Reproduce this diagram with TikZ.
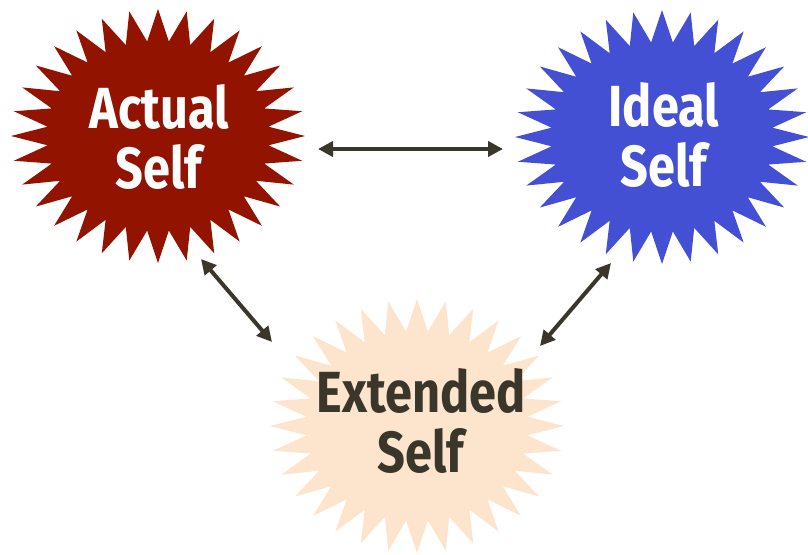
\documentclass[tikz,border=0pt]{standalone}
\usepackage{fontspec}
\usetikzlibrary{arrows.meta}
\newfontfamily\burstfont[FakeStretch=0.84]{Fira Sans Bold}

\definecolor{actualred}{RGB}{146,20,0}
\definecolor{idealblue}{RGB}{68,80,212}
\definecolor{extpeach}{RGB}{253,228,204}
\definecolor{inkdark}{RGB}{58,54,42}

% 32-point starburst centred at (#1,#2), filled with #3
\newcommand{\starburst}[3]{%
  \fill[#3] plot[samples at={0,...,63}, variable=\k]
    ({#1 + (mod(\k,2)==0 ? 147 : 111)*cos(\k*5.625)},
     {#2 + (mod(\k,2)==0 ? 127 : 95)*sin(\k*5.625)}) -- cycle;}

\begin{document}
\begin{tikzpicture}[x=1pt,y=-1pt,
  label/.style={align=center, font=\burstfont\fontsize{58}{60}\selectfont, inner sep=0pt},
  link/.style={draw=inkdark, line width=4pt,
    {Triangle[length=15pt,width=15pt]}-{Triangle[length=15pt,width=15pt]}}]
\useasboundingbox (0,0) rectangle (808,554);

% starbursts
\starburst{158}{136}{actualred}
\starburst{662}{137}{idealblue}
\starburst{417}{426}{extpeach}

% labels
\node[label, text=white] (actual) at (159,137) {Actual\\Self};
\node[label, text=white] (ideal) at (664,135) {Ideal\\Self};
\node[label, text=inkdark] (extended) at (421,421) {Extended\\Self};

% arrow ends
\coordinate (a1) at (318,149);
\coordinate (i1) at (503,149);
\coordinate (a2) at (201,259);
\coordinate (e1) at (272,342);
\coordinate (i2) at (611,263);
\coordinate (e2) at (540,346);

% connectors
\draw[link] (a1) -- (i1);
\draw[link] (a2) -- (e1);
\draw[link] (i2) -- (e2);
\end{tikzpicture}
\end{document}
